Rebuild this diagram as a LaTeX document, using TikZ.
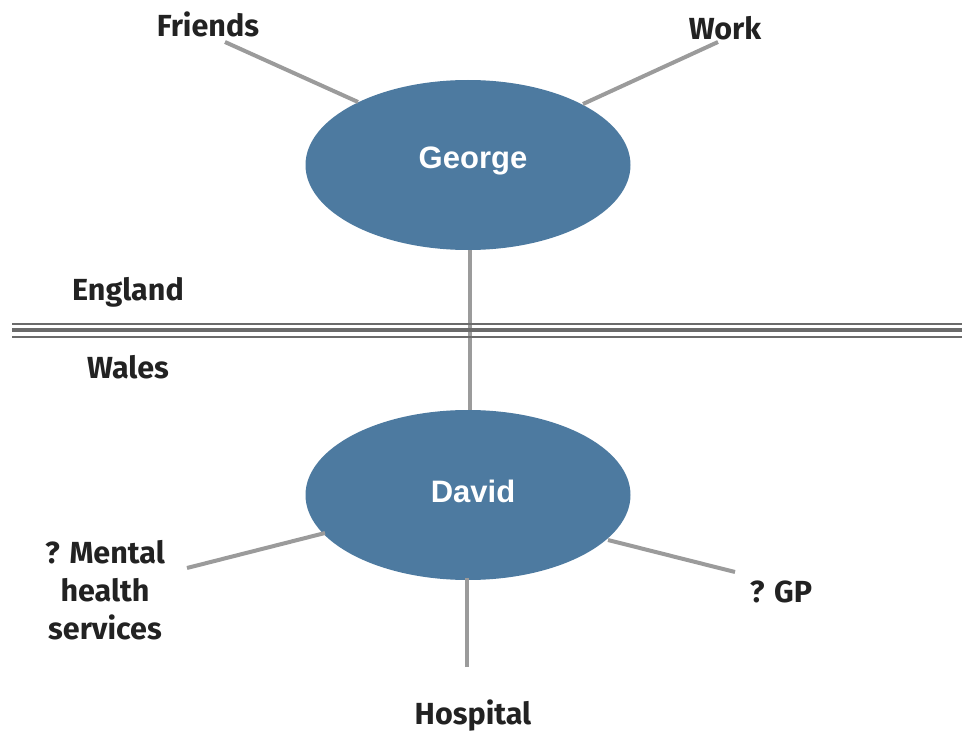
\documentclass[tikz,border=0pt]{standalone}
\usepackage{fontspec}
\setmainfont{Fira Sans}
\newfontfamily\ellfont{Liberation Sans}
\usetikzlibrary{shapes.geometric}
\definecolor{ellblue}{HTML}{4D7AA0}
\definecolor{linkgray}{HTML}{9B9B9B}
\definecolor{bordergray}{HTML}{6B6B6B}
\definecolor{txt}{HTML}{222222}
\tikzset{
  person/.style={ellipse, fill=ellblue, draw=none, minimum width=325pt, minimum height=170pt, inner sep=0pt},
  nametxt/.style={font=\ellfont\bfseries\fontsize{31}{34}\selectfont, text=white},
  lbl/.style={font=\bfseries\fontsize{30.5}{38}\selectfont, text=txt, inner sep=0pt, align=center},
  link/.style={draw=linkgray, line width=4pt},
  border/.style={draw=bordergray}
}
\begin{document}
\begin{tikzpicture}[x=1pt,y=-1pt]
\useasboundingbox (0,0) rectangle (962,733);
\node[person] (george) at (468,165) {};
\node[person] (david) at (468,495) {};
\node[nametxt] (georgetxt) at (473,161) {George};
\node[nametxt] (davidtxt) at (473,491) {David};
\node[lbl] (friends) at (208,24) {Friends};
\node[lbl] (work) at (725,28) {Work};
\node[lbl] (england) at (128,292) {England};
\node[lbl] (wales) at (128,367) {Wales};
\node[lbl] (mental) at (105,590) {? Mental\\health\\services};
\node[lbl] (gp) at (781,592) {? GP};
\node[lbl] (hospital) at (473,716) {Hospital};
\coordinate (fa) at (225,42);
\coordinate (fb) at (358,102);
\coordinate (wa) at (718,42);
\coordinate (wb) at (583,104);
\coordinate (ma) at (187,568);
\coordinate (mb) at (325,533);
\coordinate (ga) at (735,572);
\coordinate (gb) at (608,540);
\coordinate (ha) at (467,667);
\coordinate (hb) at (467,578);
\coordinate (gd1) at (470,250);
\coordinate (gd2) at (470,410);
\draw[link] (fa) -- (fb);
\draw[link] (wa) -- (wb);
\draw[link] (ma) -- (mb);
\draw[link] (ga) -- (gb);
\draw[link] (ha) -- (hb);
\draw[link] (gd1) -- (gd2);
\coordinate (l1) at (12,323.5);
\coordinate (r1) at (962,323.5);
\coordinate (l2) at (12,330);
\coordinate (r2) at (962,330);
\coordinate (l3) at (12,336.5);
\coordinate (r3) at (962,336.5);
\draw[border, line width=2pt] (l1) -- (r1);
\draw[border, line width=4pt] (l2) -- (r2);
\draw[border, line width=2pt] (l3) -- (r3);
\end{tikzpicture}
\end{document}
